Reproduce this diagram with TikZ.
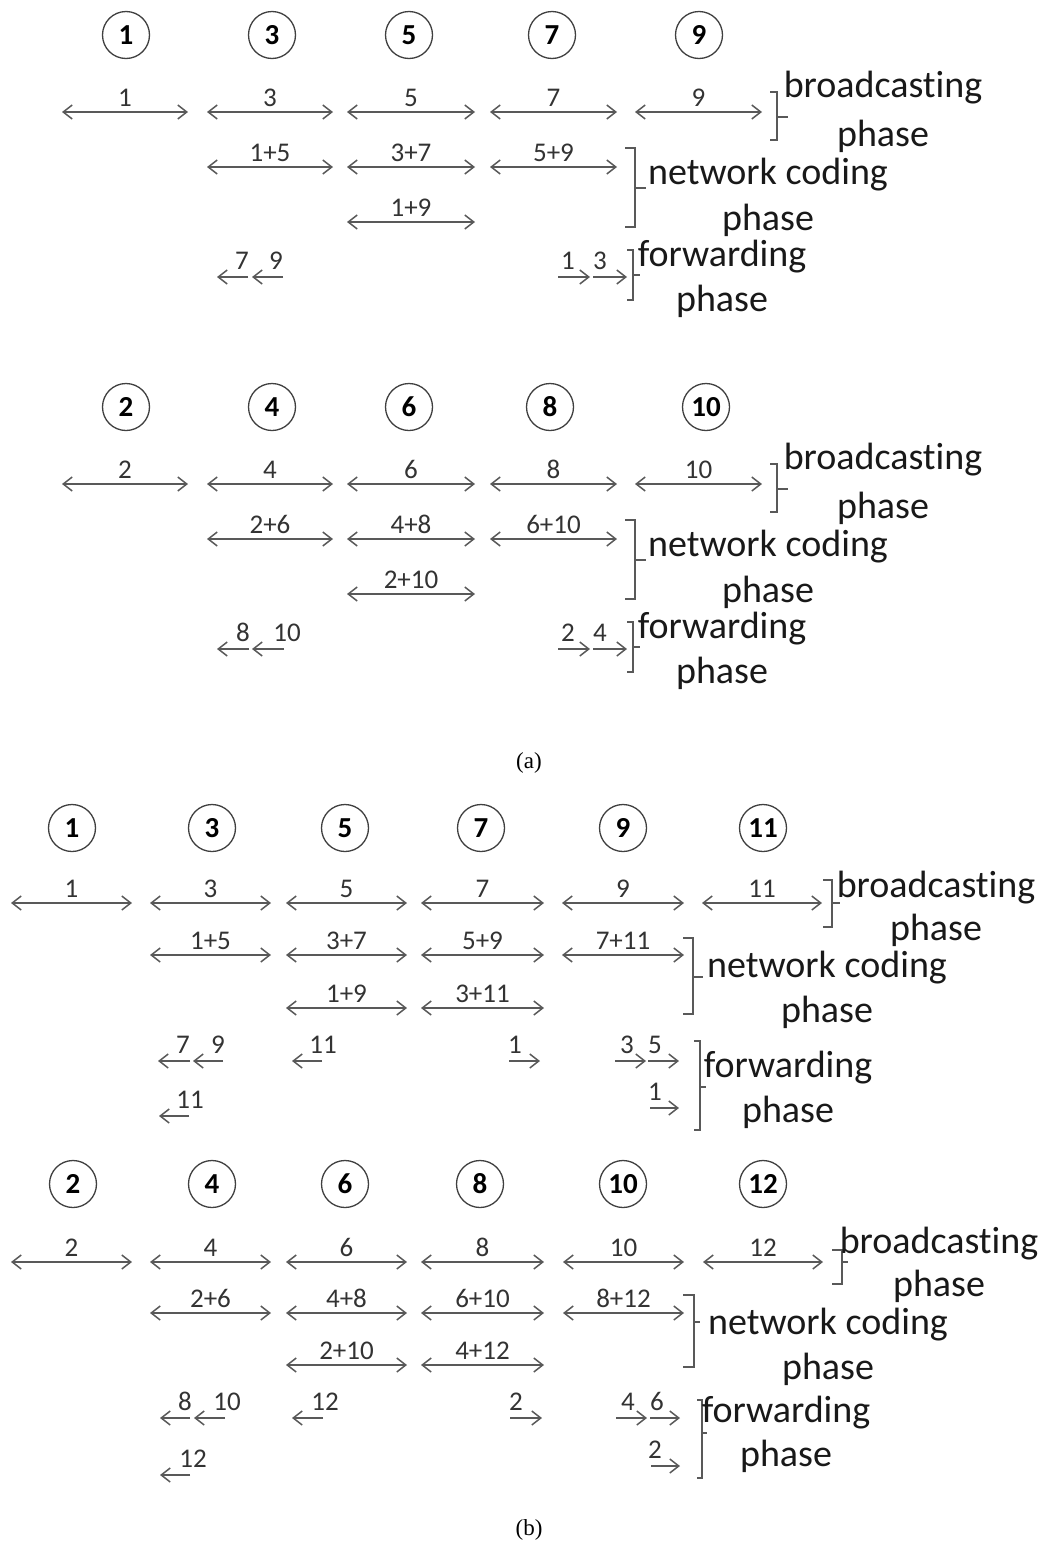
\documentclass[tikz,border=0pt]{standalone}
\usepackage{fontspec}
\setmainfont[Ligatures={NoCommon}]{Carlito}
\newfontfamily\capfont{Liberation Serif}
\usetikzlibrary{arrows.meta}
\tikzset{
  nd/.style={circle, draw=black!75, line width=0.65pt, minimum size=23.5pt, inner sep=0pt,
             font=\fontsize{14.5}{15}\selectfont\bfseries},
  link/.style={draw=black!65, line width=0.75pt,
               {Straight Barb[length=4.5pt,width=7pt]}-{Straight Barb[length=4.5pt,width=7pt]}},
  fwdl/.style={draw=black!65, line width=0.75pt, -{Straight Barb[length=4.5pt,width=7pt]}},
  lab/.style={font=\fontsize{13.5}{14}\selectfont, text=black!80, inner sep=0pt},
  phasetxt/.style={font=\fontsize{19}{20}\selectfont, text=black!90, inner sep=0pt, anchor=base},
  brk/.style={draw=black!65, line width=0.75pt},
  captxt/.style={font=\capfont\fontsize{11.5}{13}\selectfont, inner sep=0pt}
}
% double arrow: name, x1, x2, y, label
\newcommand\dar[5]{\coordinate (#1l) at (#2,#4); \coordinate (#1r) at (#3,#4);
  \draw[link] (#1l) -- node[lab,above=2.5pt] (#1t) {#5} (#1r);}
% forwarding arrow: name, xtail, xtip, y, xlabel, label
\newcommand\far[6]{\coordinate (#1a) at (#2,#4); \coordinate (#1b) at (#3,#4);
  \draw[fwdl] (#1a) -- (#1b);
  \node[lab,anchor=south] (#1t) at (#5,#4-7) {#6};}
% bracket: xstub, xvert, ytop, ybot, ytick, xtick
\newcommand\brk[6]{\draw[brk] (#1,#3) -- (#2,#3) -- (#2,#4) -- (#1,#4);
  \draw[brk] (#2,#5) -- (#6,#5);}
% phase text: name, cx, y1, y2, first line
\newcommand\phs[5]{\node[phasetxt] (#1a) at (#2,#3) {#5};
  \node[phasetxt] (#1b) at (#2,#4) {phase};}
\begin{document}
\begin{tikzpicture}[x=0.5pt,y=-0.5pt]
\fill[white] (0,0) rectangle (1042,1553);
\useasboundingbox (0,0) rectangle (1042,1553);

% ================= panel (a), top =================
\node[nd] (A1) at (126,35) {1};
\node[nd] (A3) at (272,35) {3};
\node[nd] (A5) at (409,35) {5};
\node[nd] (A7) at (552,35) {7};
\node[nd] (A9) at (699,35) {9};
\dar{Ab1}{62}{188}{112}{1}
\dar{Ab3}{207}{333}{112}{3}
\dar{Ab5}{347}{475}{112}{5}
\dar{Ab7}{490}{617}{112}{7}
\dar{Ab9}{635}{762}{112}{9}
\dar{An15}{207}{333}{167}{1+5}
\dar{An37}{347}{475}{167}{3+7}
\dar{An59}{490}{617}{167}{5+9}
\dar{An19}{347}{475}{222}{1+9}
\far{Af7}{248}{217}{277}{242}{7}
\far{Af9}{283}{252}{277}{276}{9}
\far{Af1}{558}{590}{277}{568}{1}
\far{Af3}{593}{627}{277}{600}{3}
\brk{770}{777}{92}{140}{117}{788}
\brk{625}{635}{148}{227}{188}{646}
\brk{627}{633}{250}{300}{275}{640}
\phs{Apb}{883}{97}{146}{broadcasting}
\phs{Apn}{768}{184}{230}{network coding}
\phs{Apf}{722}{266}{311}{forwarding}

% ================= panel (a), bottom =================
\node[nd] (B2) at (126,407) {2};
\node[nd] (B4) at (272,407) {4};
\node[nd] (B6) at (409,407) {6};
\node[nd] (B8) at (550,407) {8};
\node[nd] (B10) at (706,407) {10};
\dar{Bb2}{62}{188}{484}{2}
\dar{Bb4}{207}{333}{484}{4}
\dar{Bb6}{347}{475}{484}{6}
\dar{Bb8}{490}{617}{484}{8}
\dar{Bb10}{635}{762}{484}{10}
\dar{Bn26}{207}{333}{539}{2+6}
\dar{Bn48}{347}{475}{539}{4+8}
\dar{Bn610}{490}{617}{539}{6+10}
\dar{Bn210}{347}{475}{594}{2+10}
\far{Bf8}{249}{217}{649}{243}{8}
\far{Bf10}{284}{252}{649}{287}{10}
\far{Bf2}{558}{590}{649}{568}{2}
\far{Bf4}{593}{627}{649}{600}{4}
\brk{770}{777}{464}{512}{489}{788}
\brk{625}{635}{520}{599}{560}{646}
\brk{627}{633}{622}{672}{647}{640}
\phs{Bpb}{883}{469}{518}{broadcasting}
\phs{Bpn}{768}{556}{602}{network coding}
\phs{Bpf}{722}{638}{683}{forwarding}

\node[captxt] (capa) at (529,763) {(a)};

% ================= panel (b), top =================
\node[nd] (C1) at (72,828) {1};
\node[nd] (C3) at (212,828) {3};
\node[nd] (C5) at (345,828) {5};
\node[nd] (C7) at (481,828) {7};
\node[nd] (C9) at (623,828) {9};
\node[nd] (C11) at (763,828) {11};
\dar{Cb1}{11}{132}{903}{1}
\dar{Cb3}{150}{271}{903}{3}
\dar{Cb5}{286}{407}{903}{5}
\dar{Cb7}{421}{544}{903}{7}
\dar{Cb9}{562}{684}{903}{9}
\dar{Cb11}{702}{822}{903}{11}
\dar{Cn15}{150}{271}{955}{1+5}
\dar{Cn37}{286}{407}{955}{3+7}
\dar{Cn59}{421}{544}{955}{5+9}
\dar{Cn711}{562}{684}{955}{7+11}
\dar{Cn19}{286}{407}{1008}{1+9}
\dar{Cn311}{421}{544}{1008}{3+11}
\far{Cf7}{190}{158}{1061}{183}{7}
\far{Cf9}{223}{193}{1061}{218}{9}
\far{Cf11}{322}{292}{1061}{323}{11}
\far{Cf1}{509}{540}{1061}{515}{1}
\far{Cf3}{615}{646}{1061}{627}{3}
\far{Cf5}{648}{679}{1061}{655}{5}
\far{Cg11}{189}{159}{1116}{190}{11}
\far{Cg1}{650}{679}{1108}{655}{1}
\brk{823}{832}{880}{927}{903}{840}
\brk{683}{693}{938}{1014}{977}{703}
\brk{694}{700}{1041}{1130}{1087}{706}
\phs{Cpb}{936}{897}{940}{broadcasting}
\phs{Cpn}{827}{977}{1022}{network coding}
\phs{Cpf}{788}{1077}{1122}{forwarding}

% ================= panel (b), bottom =================
\node[nd] (D2) at (73,1184) {2};
\node[nd] (D4) at (212,1184) {4};
\node[nd] (D6) at (345,1184) {6};
\node[nd] (D8) at (480,1184) {8};
\node[nd] (D10) at (623,1184) {10};
\node[nd] (D12) at (763,1184) {12};
\dar{Db2}{11}{132}{1262}{2}
\dar{Db4}{150}{271}{1262}{4}
\dar{Db6}{286}{407}{1262}{6}
\dar{Db8}{421}{544}{1262}{8}
\dar{Db10}{563}{684}{1262}{10}
\dar{Db12}{703}{823}{1262}{12}
\dar{Dn26}{150}{271}{1313}{2+6}
\dar{Dn48}{286}{407}{1313}{4+8}
\dar{Dn610}{421}{544}{1313}{6+10}
\dar{Dn812}{563}{684}{1313}{8+12}
\dar{Dn210}{286}{407}{1365}{2+10}
\dar{Dn412}{421}{544}{1365}{4+12}
\far{Df8}{190}{160}{1418}{185}{8}
\far{Df10}{225}{194}{1418}{227}{10}
\far{Df12}{323}{292}{1418}{325}{12}
\far{Df2}{510}{542}{1418}{516}{2}
\far{Df4}{616}{647}{1418}{628}{4}
\far{Df6}{650}{680}{1418}{657}{6}
\far{Dg12}{190}{160}{1475}{193}{12}
\far{Dg2}{651}{680}{1466}{655}{2}
\brk{832}{842}{1250}{1284}{1262}{848}
\brk{683}{694}{1295}{1367}{1322}{700}
\brk{697}{702}{1400}{1478}{1433}{707}
\phs{Dpb}{939}{1253}{1296}{broadcasting}
\phs{Dpn}{828}{1334}{1379}{network coding}
\phs{Dpf}{786}{1422}{1466}{forwarding}

\node[captxt] (capb) at (529,1530) {(b)};
\end{tikzpicture}
\end{document}
